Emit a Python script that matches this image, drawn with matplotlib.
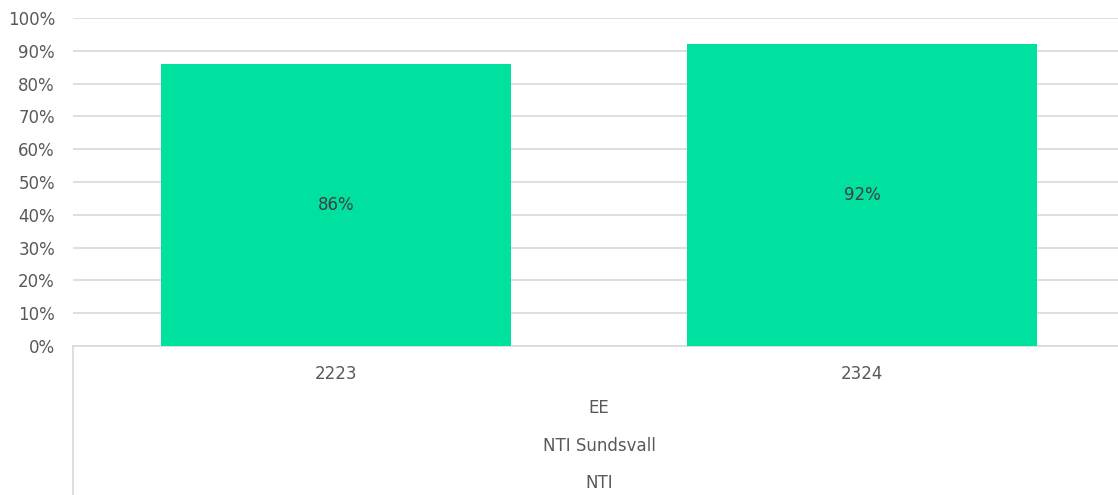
import matplotlib.pyplot as plt
from matplotlib.lines import Line2D

years = ["2223", "2324"]
values = [0.86, 0.92]
group_labels = ["EE", "NTI Sundsvall", "NTI"]

bar_color = "#00E19F"
text_color = "#595959"
grid_color = "#D9D9D9"

fig = plt.figure(figsize=(11.18, 4.95), dpi=100)
# plot area runs a bit past the right edge, as in the original
ax = fig.add_axes([73 / 1118, 149 / 495, 1052 / 1118, 328 / 495])

x = range(len(years))
bars = ax.bar(x, values, width=0.667, color=bar_color, zorder=3)
ax.bar_label(bars, labels=[f"{v:.0%}" for v in values], label_type="center",
             color="#404040", fontsize=12)

ax.set_xlim(-0.5, len(years) - 0.5)
ax.set_ylim(0, 1)
ax.set_yticks([i / 10 for i in range(11)])
ax.set_yticklabels([f"{i * 10}%" for i in range(11)])
ax.yaxis.grid(True, color=grid_color, linewidth=1.2, zorder=0)
ax.tick_params(axis="y", length=0, pad=13, labelsize=12, labelcolor=text_color)

ax.set_xticks(list(x))
ax.set_xticklabels(years)
ax.tick_params(axis="x", length=0, pad=14, labelsize=12, labelcolor=text_color)

for s in ["top", "right", "left"]:
    ax.spines[s].set_visible(False)
ax.spines["bottom"].set_color(grid_color)
ax.spines["bottom"].set_linewidth(1.2)

# outer category levels
group_y = [-0.189, -0.305, -0.418]
for lab, gy in zip(group_labels, group_y):
    ax.text((len(years) - 1) / 2, gy, lab, transform=ax.get_xaxis_transform(),
            ha="center", va="center", fontsize=12, color=text_color)

# left border of the category axis area
fig.add_artist(Line2D([73 / 1118, 73 / 1118], [0, 149 / 495],
                      color=grid_color, linewidth=1.2))

fig.savefig("out.png", dpi=100)
